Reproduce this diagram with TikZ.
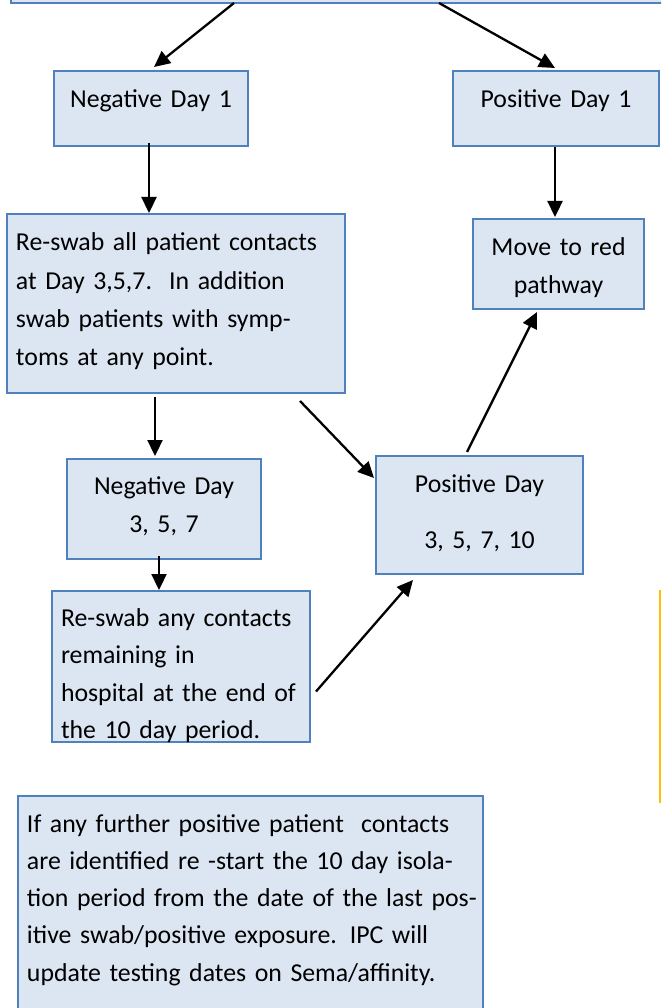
\documentclass[tikz,border=0pt]{standalone}
\usepackage{fontspec}
\setmainfont{Carlito}
\usepackage{tikz}
\usetikzlibrary{arrows.meta}
\definecolor{boxblue}{RGB}{79,129,189}
\definecolor{boxfill}{RGB}{220,230,242}
\definecolor{edgegold}{RGB}{255,192,0}
\tikzset{
  flowbox/.style={
    draw=boxblue,
    fill=boxfill,
    line width=1.8pt,
    anchor=north west,
    align=center,
    inner sep=0pt,
    outer sep=0pt,
    font=\fontsize{25.8}{38.2}\selectfont
  },
  notebox/.style={
    flowbox,
    align=left,
    inner xsep=9pt
  },
  flowarrow/.style={-{Triangle[length=16pt,width=15pt]},draw=black,line width=2.3pt}
}
\begin{document}
\begin{tikzpicture}[x=1pt,y=-1pt]
\useasboundingbox (0,0) rectangle (661,1008);
\clip (0,0) rectangle (661,1008);
\node[flowbox,anchor=south west,minimum width=720pt,minimum height=60pt] (start) at (11,3) {};
\node[flowbox,text width=194pt,text height=37pt,text depth=38pt] (negday1) at (54,71) {Negative Day 1};
\node[flowbox,text width=206pt,text height=37pt,text depth=38pt] (posday1) at (453,71) {Positive Day 1};
\node[notebox,text width=320pt,text height=37pt,text depth=142pt] (reswaball) at (7,214) {Re-swab all patient contacts\\at Day 3,5,7.\ \ In addition\\swab patients with symp-\\toms at any point.};
\node[flowbox,text width=171pt,text height=36pt,text depth=54pt] (movered) at (473,219) {Move to red\\pathway};
\node[flowbox,text width=194pt,text height=35pt,text depth=65pt] (negday357) at (67,459) {Negative Day\\3, 5, 7};
\node[flowbox,text width=207pt,text height=36pt,text depth=82pt] (posday) at (376,456) {Positive Day\\[17.8pt]3, 5, 7, 10};
\node[notebox,text width=240pt,text height=35pt,text depth=116pt,font=\fontsize{25.8}{37.6}\selectfont] (reswabany) at (52,591) {Re-swab any contacts\\remaining in\\hospital at the end of\\the 10 day period.};
\node[notebox,text width=447pt,text height=36pt,text depth=200pt,font=\fontsize{25.8}{37.3}\selectfont] (further) at (18,796) {\mbox{If any further positive patient\ \ contacts}\\\mbox{are identified re -start the 10 day isola-}\\\mbox{tion period from the date of the last pos-}\\\mbox{itive swab/positive exposure. IPC will}\\\mbox{update testing dates on Sema/affinity.}};
% arrows
\draw[flowarrow] ([xshift=223pt]start.south west) -- ([xshift=3pt,yshift=4pt]negday1.north);
\draw[flowarrow] ([xshift=428pt]start.south west) -- ([xshift=-1pt,yshift=3pt]posday1.north);
\draw[flowarrow] ([xshift=-2pt,yshift=3pt]negday1.south) -- ([xshift=-27pt,yshift=1pt]reswaball.north);
\draw[flowarrow] ([xshift=-1pt,yshift=-1pt]posday1.south) -- ([xshift=-3.5pt,yshift=2pt]movered.north);
\draw[flowarrow] ([xshift=-21pt,yshift=-4pt]reswaball.south) -- ([xshift=-9pt,yshift=3pt]negday357.north);
\draw[flowarrow] ([xshift=-45pt,yshift=-8pt]reswaball.south east) -- ([xshift=-2pt,yshift=-22pt]posday.north west);
\draw[flowarrow] ([xshift=-12.5pt,yshift=4pt]posday.north) -- ([xshift=-21.5pt,yshift=-3pt]movered.south);
\draw[flowarrow] ([xshift=-5pt,yshift=3pt]negday357.south) -- ([xshift=-22pt,yshift=1pt]reswabany.north);
\draw[flowarrow] ([xshift=6pt,yshift=-25pt]reswabany.east) -- ([xshift=37pt,yshift=-6pt]posday.south west);
\draw[edgegold,line width=1.5pt] (660,590) -- (660,803);
\end{tikzpicture}
\end{document}
